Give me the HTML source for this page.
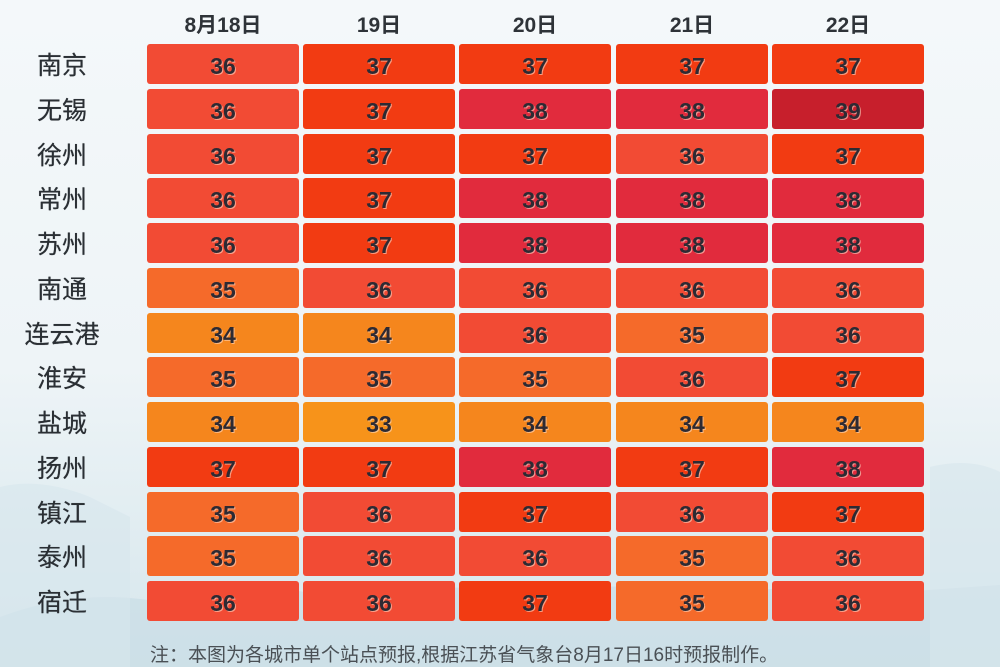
<!DOCTYPE html>
<html><head><meta charset="utf-8"><style>
body{margin:0;width:1000px;height:667px;overflow:hidden;position:relative;font-family:"Liberation Sans","Noto Sans CJK SC",sans-serif;
background:linear-gradient(180deg,#f4f8fa 0%,#eef4f7 55%,#e3eef2 75%,#d6e6ec 100%);}
.h{position:absolute;top:9px;width:152px;text-align:center;font-size:21px;font-weight:bold;color:#2e3338;}
.c{position:absolute;left:16px;width:92px;text-align:center;font-size:25px;color:#2a2f34;height:40px;line-height:44px;text-shadow:0 0 .5px #2a2f34;}
.cell{position:absolute;width:152px;height:40px;border-radius:3px;text-align:center;line-height:45px;font-size:23px;font-weight:bold;color:#2d2a33;text-shadow:1px 1px 0 rgba(255,220,200,.6);}
.note{position:absolute;left:150px;top:640px;font-size:19px;color:#4a5055;}
.mt{position:absolute;bottom:0;left:0;width:1000px;height:240px;}
</style></head><body>
<svg class="mt" viewBox="0 0 1000 240"><path d="M0 190 Q80 160 160 175 L200 165 Q260 150 330 172 Q420 150 520 168 Q620 150 720 170 Q820 150 900 165 L1000 158 L1000 240 L0 240Z" fill="#c9dde6" opacity=".7"/><path d="M0 60 Q40 50 90 70 L130 90 L130 240 L0 240Z" fill="#d7e6ec" opacity=".6"/><path d="M930 40 Q970 30 1000 45 L1000 240 L930 240Z" fill="#d7e6ec" opacity=".6"/></svg>
<div id="g"></div>
<div class="note">注：本图为各城市单个站点预报,根据江苏省气象台8月17日16时预报制作。</div>
<script>
var cols=[147,303,459,616,772],heads=["8月18日","19日","20日","21日","22日"];
var cities=["南京","无锡","徐州","常州","苏州","南通","连云港","淮安","盐城","扬州","镇江","泰州","宿迁"];
var d=[[36,37,37,37,37],[36,37,38,38,39],[36,37,37,36,37],[36,37,38,38,38],[36,37,38,38,38],[35,36,36,36,36],[34,34,36,35,36],[35,35,35,36,37],[34,33,34,34,34],[37,37,38,37,38],[35,36,37,36,37],[35,36,36,35,36],[36,36,37,35,36]];
var col={33:"#f7931a",34:"#f5861d",35:"#f56a2a",36:"#f24b34",37:"#f23b12",38:"#e12b3d",39:"#c71f2c"};
var h="";
heads.forEach(function(t,i){h+='<div class="h" style="left:'+cols[i]+'px">'+t+'</div>';});
cities.forEach(function(c,r){var y=Math.round(44+r*44.75);
h+='<div class="c" style="top:'+y+'px">'+c+'</div>';
d[r].forEach(function(v,i){h+='<div class="cell" style="left:'+cols[i]+'px;top:'+y+'px;background:'+col[v]+'">'+v+'</div>';});});
document.getElementById("g").innerHTML=h;
</script>
</body></html>
